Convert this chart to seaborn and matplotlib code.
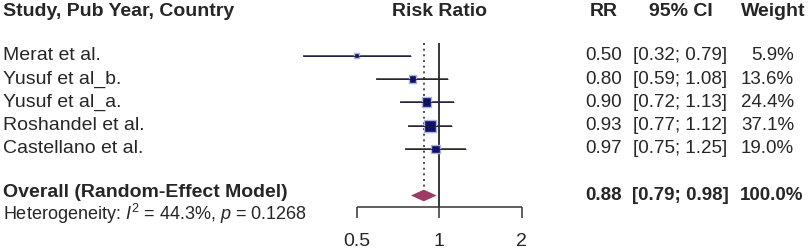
import numpy as np
import matplotlib
matplotlib.use("Agg")
import matplotlib.pyplot as plt
import matplotlib.transforms as mtransforms
import seaborn as sns

# data
studies = ["Merat et al.", "Yusuf et al_b.", "Yusuf et al_a.", "Roshandel et al.", "Castellano et al."]
rr = [0.50, 0.80, 0.90, 0.93, 0.97]
ci_low = [0.32, 0.59, 0.72, 0.77, 0.75]
ci_high = [0.79, 1.08, 1.13, 1.12, 1.25]
weights = [5.9, 13.6, 24.4, 37.1, 19.0]
overall = 0.88
overall_low = 0.79
overall_high = 0.98
ticks = [0.5, 1, 2]
tick_labels = ["0.5", "1", "2"]
heterogeneity = "Heterogeneity: $I^2$ = 44.3%, $p$ = 0.1268"

sns.set_theme(style="white")
plt.rcParams['font.family'] = ['Liberation Sans', 'DejaVu Sans']
plt.rcParams['mathtext.fontset'] = 'custom'
plt.rcParams['mathtext.rm'] = 'Liberation Sans'
plt.rcParams['mathtext.it'] = 'Liberation Sans:italic'

W, H = 809, 252
fig = plt.figure(figsize=(W / 100, H / 100), dpi=100)

# forest panel: log x, rows in index units
x0, x1 = 290, 545
ax = fig.add_axes([x0 / W, 0, (x1 - x0) / W, 1])
ax.set_xscale("log")
px_per_oct = 82.5
ax.set_xlim(2 ** ((x0 - 439) / px_per_oct), 2 ** ((x1 - 439) / px_per_oct))
row0, row_h = 55.7, 23.3
ax.set_ylim((H - row0) / row_h, -row0 / row_h)
ax.axis("off")

rows = np.arange(len(studies))
overall_row = 6
axis_y = (207.3 - row0) / row_h
tick_y = (218.3 - row0) / row_h
top_y = (43 - row0) / row_h

# reference lines
ax.vlines(1, top_y, axis_y, color="black", lw=1.1, zorder=1)
ax.vlines(overall, top_y, overall_row - 0.25, color="#333333", lw=1.2,
          linestyles=(0, (1.2, 2.2)), zorder=1)

# CI whiskers and weighted squares
ax.hlines(rows, ci_low, ci_high, color="#2b2b2b", lw=1.1, zorder=2)
sides = 12 * np.sqrt(np.array(weights) / max(weights)) * 0.72
sns.scatterplot(x=rr, y=rows, ax=ax, marker="s", s=sides ** 2,
                color="#10106a", edgecolor="#a9b4d6", linewidth=1.0, zorder=3, legend=False)
ax.hlines(rows, ci_low, ci_high, color="#1a1a40", lw=0.6, zorder=4)

# overall diamond
ax.fill([overall_low, overall, overall_high, overall],
        [overall_row, overall_row - 0.25, overall_row, overall_row + 0.25],
        color="#9e3a66", lw=0, zorder=3)

# x axis
ax.hlines(axis_y, ticks[0], ticks[-1], color="#333333", lw=1.1)
ax.vlines(ticks, axis_y, tick_y, color="#333333", lw=1.1)
for t, lab in zip(ticks, tick_labels):
    ax.text(t, (241.7 - row0) / row_h, lab, ha="center", va="center", fontsize=14)

# text columns
tr = mtransforms.blended_transform_factory(fig.transFigure, ax.transData)
fs = 14
fn = 13.5
head_y = (11 - row0) / row_h
ax.text(3 / W, head_y, "Study, Pub Year, Country", transform=tr, fontsize=fs,
        fontweight="bold", va="center")
ax.text(439 / W, head_y, "Risk Ratio", transform=tr, fontsize=fs, fontweight="bold",
        ha="center", va="center")
ax.text(604 / W, head_y, "RR", transform=tr, fontsize=fs, fontweight="bold", ha="center", va="center")
ax.text(681 / W, head_y, "95% CI", transform=tr, fontsize=fs, fontweight="bold", ha="center", va="center")
ax.text(773 / W, head_y, "Weight", transform=tr, fontsize=fs, fontweight="bold", ha="center", va="center")

for i, name in enumerate(studies):
    ax.text(3 / W, i, name, transform=tr, fontsize=fs, va="center")
    ax.text(622 / W, i, f"{rr[i]:.2f}", transform=tr, fontsize=fn, ha="right", va="center")
    ax.text(633 / W, i, f"[{ci_low[i]:.2f}; {ci_high[i]:.2f}]", transform=tr, fontsize=fn,
            ha="left", va="center")
    ax.text(794 / W, i, f"{weights[i]:.1f}%", transform=tr, fontsize=fn, ha="right", va="center")

ax.text(3 / W, overall_row - 0.14, "Overall (Random-Effect Model)", transform=tr, fontsize=fs,
        fontweight="bold", va="center")
ax.text(622 / W, overall_row, f"{overall:.2f}", transform=tr, fontsize=fn, fontweight="bold",
        ha="right", va="center")
ax.text(632 / W, overall_row, f"[{overall_low:.2f}; {overall_high:.2f}]", transform=tr,
        fontsize=fn, fontweight="bold", ha="left", va="center")
ax.text(803 / W, overall_row, f"{sum(weights):.1f}%", transform=tr, fontsize=fn,
        fontweight="bold", ha="right", va="center")
ax.text(3 / W, (213.5 - row0) / row_h, heterogeneity, transform=tr, fontsize=13, va="center")

fig.savefig("out.png", dpi=100)
